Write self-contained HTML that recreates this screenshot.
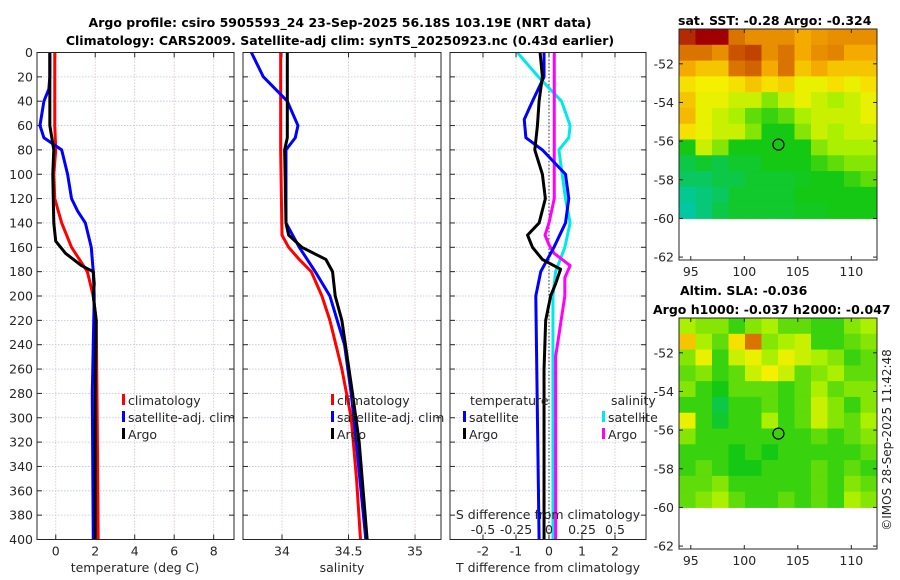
<!DOCTYPE html>
<html><head><meta charset="utf-8"><style>
body{margin:0;background:#fff;}
svg{display:block;font-family:"DejaVu Sans","Liberation Sans",sans-serif;}
</style></head><body>
<svg id="fig" width="900" height="580" viewBox="0 0 900 580">
<text x="340" y="27" text-anchor="middle" font-weight="bold" font-size="12.5">Argo profile: csiro 5905593_24 23-Sep-2025 56.18S 103.19E (NRT data)</text>
<text x="340" y="45" text-anchor="middle" font-weight="bold" font-size="12.5">Climatology: CARS2009. Satellite-adj clim: synTS_20250923.nc (0.43d earlier)</text>
<text x="678" y="25" font-weight="bold" font-size="12.5">sat. SST: -0.28 Argo: -0.324</text>
<text x="680" y="295" font-weight="bold" font-size="12.5">Altim. SLA: -0.036</text>
<text x="653" y="314" font-weight="bold" font-size="12.5">Argo h1000: -0.037 h2000: -0.047</text>
<text transform="translate(891,440) rotate(-90)" text-anchor="middle" font-size="12" fill="#262626">©IMOS 28-Sep-2025 11:42:48</text>
</svg>
<script>
// ---------- data ----------
const depthTicks=[0,20,40,60,80,100,120,140,160,180,200,220,240,260,280,300,320,340,360,380,400];
const tempTicks=[0,2,4,6,8];
const salTicks=[34,34.5,35];
const tdiffTicks=[-2,-1,0,1,2];
const sdiffTicks=[-0.5,-0.25,0,0.25,0.5];
const tempClimD=[0,60,80,100,120,140,160,170,180,200,220,300,400];
const tempClimV=[-0.05,-0.05,0,-0.1,-0.05,0.3,0.8,1.2,1.6,1.9,2.05,2.1,2.15];
const tempSatD=[0,20,30,40,60,70,80,100,120,130,140,160,180,200,280,400];
const tempSatV=[-0.3,-0.3,-0.35,-0.6,-0.8,-0.6,0.3,0.6,0.8,1.1,1.5,1.8,1.9,1.95,1.85,1.9];
const tempArgoD=[0,60,80,100,140,155,165,175,180,190,200,220,280,400];
const tempArgoV=[-0.3,-0.3,-0.1,-0.15,-0.1,0,0.5,1.3,1.9,1.95,1.9,2.05,2.0,2.0];
const salClimD=[0,80,150,160,170,180,200,220,260,300,350,400];
const salClimV=[33.99,33.99,34.0,34.05,34.13,34.22,34.3,34.36,34.45,34.52,34.56,34.59];
const salSatD=[0,20,40,60,70,80,100,140,160,180,200,240,280,300,400];
const salSatV=[33.77,33.86,34.04,34.12,34.1,34.03,34.03,34.03,34.13,34.25,34.36,34.47,34.52,34.54,34.63];
const salArgoD=[0,70,80,140,150,160,170,180,200,220,280,320,400];
const salArgoV=[34.04,34.04,34.02,34.03,34.05,34.15,34.33,34.38,34.4,34.45,34.53,34.58,34.64];
const tdArgoD=[0,20,40,60,80,100,120,140,150,160,170,178,190,200,220,260,400];
const tdArgoV=[-0.27,-0.2,-0.3,-0.35,-0.43,-0.2,-0.11,-0.3,-0.65,-0.5,-0.2,0.35,0.2,0.05,-0.1,-0.15,-0.15];
const tdSatD=[0,20,40,55,70,80,100,120,140,160,180,200,400];
const tdSatV=[-0.15,-0.15,-0.5,-0.75,-0.7,-0.2,0.5,0.6,0.5,0.15,-0.25,-0.4,-0.3];
const sdSatD=[0,20,40,60,70,80,100,120,140,160,180,200,400];
const sdSatV=[-0.24,-0.08,0.095,0.16,0.15,0.075,0.1,0.125,0.16,0.12,0.05,0.03,0.03];
const sdArgoD=[0,120,140,150,158,165,175,185,200,250,400];
const sdArgoV=[0.04,0.04,0.0,-0.03,0,0.04,0.16,0.12,0.12,0.05,0.05];
const lonTicks=[95,100,105,110];
const latTicks=[-52,-54,-56,-58,-60,-62];
const argoLon=103.19, argoLat=-56.18;
const sstGrid=[
[0.95,1.0,1.0,0.85,0.8,0.8,0.8,0.75,0.78,0.8,0.8,0.8],
[0.85,0.85,0.8,0.9,0.92,0.8,0.85,0.75,0.8,0.82,0.75,0.75],
[0.75,0.7,0.7,0.85,0.88,0.75,0.85,0.7,0.75,0.7,0.7,0.7],
[0.65,0.62,0.62,0.65,0.7,0.65,0.68,0.6,0.6,0.65,0.6,0.65],
[0.7,0.6,0.6,0.55,0.55,0.45,0.55,0.6,0.55,0.5,0.55,0.6],
[0.72,0.6,0.55,0.5,0.4,0.35,0.4,0.5,0.55,0.55,0.55,0.6],
[0.65,0.6,0.55,0.55,0.45,0.3,0.3,0.45,0.55,0.5,0.55,0.55],
[0.3,0.55,0.45,0.3,0.3,0.3,0.3,0.3,0.45,0.5,0.5,0.5],
[0.2,0.25,0.2,0.25,0.25,0.3,0.3,0.3,0.35,0.4,0.45,0.45],
[0.15,0.15,0.2,0.2,0.25,0.25,0.25,0.28,0.3,0.3,0.35,0.4],
[0.05,0.1,0.15,0.25,0.25,0.25,0.25,0.3,0.3,0.3,0.3,0.3],
[0.02,0.1,0.2,0.25,0.25,0.25,0.25,0.28,0.28,0.3,0.3,0.3]];
const slaGrid=[
[0.5,0.45,0.45,0.35,0.45,0.5,0.4,0.4,0.35,0.35,0.45,0.5],
[0.7,0.5,0.4,0.65,0.85,0.45,0.5,0.55,0.35,0.35,0.4,0.45],
[0.45,0.6,0.35,0.55,0.6,0.5,0.6,0.55,0.5,0.45,0.35,0.4],
[0.4,0.45,0.35,0.4,0.55,0.62,0.55,0.4,0.45,0.5,0.4,0.4],
[0.45,0.35,0.3,0.4,0.4,0.4,0.35,0.4,0.5,0.4,0.45,0.45],
[0.35,0.35,0.2,0.35,0.35,0.4,0.35,0.4,0.55,0.45,0.35,0.45],
[0.6,0.35,0.25,0.35,0.35,0.5,0.35,0.4,0.55,0.45,0.4,0.5],
[0.45,0.35,0.35,0.35,0.35,0.35,0.35,0.35,0.4,0.35,0.4,0.45],
[0.35,0.35,0.35,0.3,0.35,0.3,0.35,0.35,0.35,0.35,0.35,0.4],
[0.35,0.4,0.35,0.3,0.3,0.35,0.35,0.35,0.4,0.35,0.4,0.35],
[0.4,0.4,0.45,0.35,0.35,0.35,0.35,0.35,0.4,0.35,0.45,0.4],
[0.4,0.45,0.5,0.4,0.35,0.35,0.4,0.35,0.4,0.35,0.5,0.45]];

// ---------- helpers ----------
const NS="http://www.w3.org/2000/svg";
const svg=document.getElementById('fig');
const FS=12.5;
function mk(tag,attrs,parent){const e=document.createElementNS(NS,tag);for(const k in attrs)e.setAttribute(k,attrs[k]);(parent||svg).appendChild(e);return e;}
const Y0=52.5,Y1=539.5;
function yD(d){return Y0+(d/400)*(Y1-Y0);}
function panel(name,x0,x1,vmin,vmax,ticks,labelFmt,showY){
  const g=mk('g',{});
  
  
  const sx=v=>x0+(v-vmin)/(vmax-vmin)*(x1-x0);
  mk('rect',{x:x0,y:Y0,width:x1-x0,height:Y1-Y0,fill:'#fff'},g);
  depthTicks.forEach(d=>{
    const y=yD(d);
    mk('line',{x1:x0,x2:x1,y1:y,y2:y,stroke:'#b8c4e6','stroke-width':0.8,'stroke-dasharray':'1.5,1.5'},g);
    mk('line',{x1:x0,x2:x0+5,y1:y,y2:y,stroke:'#262626'},g);
    mk('line',{x1:x1-5,x2:x1,y1:y,y2:y,stroke:'#262626'},g);
    if(showY){const t=mk('text',{x:x0-4,y:y+4.5,'text-anchor':'end','font-size':FS,fill:'#262626'},g);t.textContent=d;}
  });
  if(ticks){ticks.forEach(v=>{const x=sx(v);
    mk('line',{x1:x,x2:x,y1:Y0,y2:Y1,stroke:'#e0c0c0','stroke-width':0.8,'stroke-dasharray':'1.5,1.5'},g);
    mk('line',{x1:x,x2:x,y1:Y1-5,y2:Y1,stroke:'#262626'},g);
    mk('line',{x1:x,x2:x,y1:Y0,y2:Y0+5,stroke:'#262626'},g);
    if(labelFmt){const t=mk('text',{x:x,y:Y1+16,'text-anchor':'middle','font-size':FS,fill:'#262626'},g);t.textContent=labelFmt(v);}
  });}
  return {g,sx,x0,x1};
}
function series(p,name,D,V,color,scale){
  const pts=D.map((d,i)=>p.sx(V[i]*(scale||1))+','+yD(d)).join(' ');
  const e=mk('polyline',{points:pts,fill:'none',stroke:color,'stroke-width':3,'stroke-linejoin':'round'},p.g);
  
  
}
function frame(p){mk('rect',{x:p.x0,y:Y0,width:p.x1-p.x0,height:Y1-Y0,fill:'none',stroke:'#262626','stroke-width':1},p.g);}
function legendItem(p,x,y,color,label){
  const g=mk('g',{},p.g);
  
  
  mk('rect',{x:x,y:y-11,width:3,height:11,fill:color},g);
  const t=mk('text',{x:x+6,y:y,'font-size':FS,fill:'#262626'},g);t.textContent=label;
}

// ---------- panel 1 ----------
const p1=panel('temperature-panel',37,234,-0.95,9.03,tempTicks,v=>v,true);
series(p1,'temp-climatology-line',tempClimD,tempClimV,'#ff0000');
series(p1,'temp-satellite-line',tempSatD,tempSatV,'#0000ff');
series(p1,'temp-argo-line',tempArgoD,tempArgoV,'#000000');
frame(p1);
legendItem(p1,122,405,'#ff0000','climatology');
legendItem(p1,122,422,'#0000ff','satellite-adj. clim');
legendItem(p1,122,439,'#000000','Argo');
let t=mk('text',{x:135,y:572,'text-anchor':'middle','font-size':FS,fill:'#262626'});t.textContent='temperature (deg C)';



// ---------- panel 2 ----------
const p2=panel('salinity-panel',243,441,33.707,35.195,salTicks,v=>v,false);
series(p2,'sal-climatology-line',salClimD,salClimV,'#ff0000');
series(p2,'sal-satellite-line',salSatD,salSatV,'#0000ff');
series(p2,'sal-argo-line',salArgoD,salArgoV,'#000000');
frame(p2);
legendItem(p2,331,405,'#ff0000','climatology');
legendItem(p2,331,422,'#0000ff','satellite-adj. clim');
legendItem(p2,331,439,'#000000','Argo');
t=mk('text',{x:342,y:572,'text-anchor':'middle','font-size':FS,fill:'#262626'});t.textContent='salinity';



// ---------- panel 3 ----------
const p3=panel('difference-panel',450,646,-3.0,2.94,tdiffTicks,v=>v,false);
mk('line',{x1:p3.sx(0),x2:p3.sx(0),y1:Y0,y2:Y1,stroke:'#333','stroke-width':1,'stroke-dasharray':'1.5,2'},p3.g);
series(p3,'sdiff-satellite-line',sdSatD,sdSatV,'#00e8e8',4);
series(p3,'sdiff-argo-line',sdArgoD,sdArgoV,'#ff00ff',4);
series(p3,'tdiff-satellite-line',tdSatD,tdSatV,'#0000ff');
series(p3,'tdiff-argo-line',tdArgoD,tdArgoV,'#000000');
frame(p3);
t=mk('text',{x:470,y:405,'font-size':FS,fill:'#262626'},p3.g);t.textContent='temperature';
t=mk('text',{x:611,y:405,'font-size':FS,fill:'#262626'},p3.g);t.textContent='salinity';
legendItem(p3,463,422,'#0000ff','satellite');
legendItem(p3,463,439,'#000000','Argo');
legendItem(p3,602,422,'#00e8e8','satellite ');
legendItem(p3,602,439,'#ff00ff','Argo ');
t=mk('text',{x:548,y:519,'text-anchor':'middle','font-size':FS,fill:'#262626'});t.textContent='S difference from climatology';


sdiffTicks.forEach(v=>{const e=mk('text',{x:p3.sx(v*4),y:534,'text-anchor':'middle','font-size':FS,fill:'#262626'});e.textContent=v;
  
  });
t=mk('text',{x:548,y:572,'text-anchor':'middle','font-size':FS,fill:'#262626'});t.textContent='T difference from climatology';



// ---------- maps ----------
const LON0=93.9,LON1=112.4,LATT=-50.2,LATB=-62.15,LATD=-60.0;
function cmap(v){
  const stops=[[0,[0,200,170]],[0.3,[20,200,20]],[0.5,[170,240,0]],[0.62,[245,240,0]],[0.75,[245,170,0]],[0.88,[210,100,0]],[1,[160,0,0]]];
  for(let i=1;i<stops.length;i++){if(v<=stops[i][0]){const a=stops[i-1],b=stops[i];const f=(v-a[0])/(b[0]-a[0]);
    const c=a[1].map((q,k)=>Math.round(q+(b[1][k]-q)*f));return 'rgb('+c.join(',')+')';}}
  return 'rgb(160,0,0)';
}
function map(name,grid,x0,x1,y0,y1){
  const g=mk('g',{});
  
  
  const sx=l=>x0+(l-LON0)/(LON1-LON0)*(x1-x0);
  const sy=l=>y0+(LATT-l)/(LATT-LATB)*(y1-y0);
  const rows=grid.length,cols=grid[0].length;
  const dlat=(LATT-LATD)/rows,dlon=(LON1-LON0)/cols;
  grid.forEach((row,r)=>row.forEach((v,c)=>{
    const xa=sx(LON0+c*dlon),xb=sx(LON0+(c+1)*dlon),ya=sy(LATT-r*dlat),yb=sy(LATT-(r+1)*dlat);
    const e=mk('rect',{x:xa,y:ya,width:xb-xa+0.5,height:yb-ya+0.5,fill:cmap(v)},g);
    
    
  }));
  mk('rect',{x:x0,y:y0,width:x1-x0,height:y1-y0,fill:'none',stroke:'#262626'},g);
  lonTicks.forEach(l=>{const x=sx(l);mk('line',{x1:x,x2:x,y1:y1-4,y2:y1,stroke:'#262626'},g);mk('line',{x1:x,x2:x,y1:y0,y2:y0+4,stroke:'#262626'},g);
    const e=mk('text',{x:x,y:y1+16,'text-anchor':'middle','font-size':FS,fill:'#262626'},g);e.textContent=l;});
  latTicks.forEach(l=>{const y=sy(l);mk('line',{x1:x0,x2:x0+4,y1:y,y2:y,stroke:'#262626'},g);mk('line',{x1:x1-4,x2:x1,y1:y,y2:y,stroke:'#262626'},g);
    const e=mk('text',{x:x0-5,y:y+4.5,'text-anchor':'end','font-size':FS,fill:'#262626'},g);e.textContent=l;});
  const c=mk('circle',{cx:sx(argoLon),cy:sy(argoLat),r:5.5,fill:'none',stroke:'#000','stroke-width':1.2},g);
  
  
}
map('sst-map',sstGrid,679,877,29,260);
map('sla-map',slaGrid,679,877,318,549);
</script>
</body></html>
